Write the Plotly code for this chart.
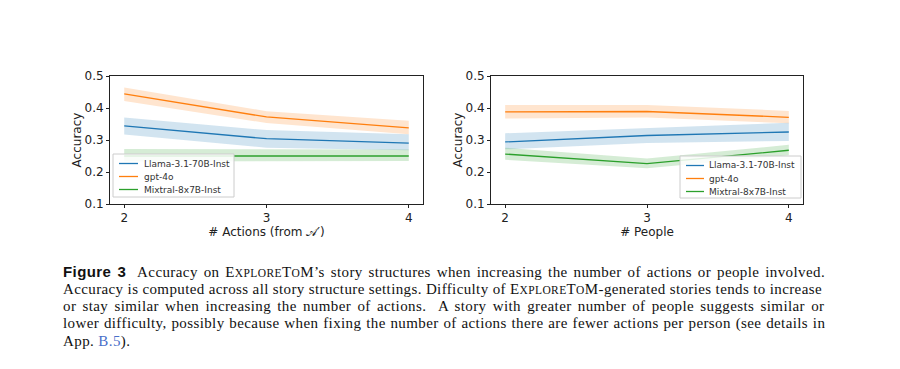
import plotly.graph_objects as go

# ---------------- data ----------------
x_vals = [2, 3, 4]
models = ["Llama-3.1-70B-Inst", "gpt-4o", "Mixtral-8x7B-Inst"]
colors = ["#1f77b4", "#ff7f0e", "#2ca02c"]
bands = ["rgba(31,119,180,0.2)", "rgba(255,127,14,0.2)", "rgba(44,160,44,0.2)"]

# Left: number of actions
act_llama_mean = [0.344, 0.304, 0.290]
act_llama_lo = [0.317, 0.276, 0.268]
act_llama_hi = [0.370, 0.331, 0.318]
act_gpt_mean = [0.444, 0.372, 0.338]
act_gpt_lo = [0.422, 0.353, 0.318]
act_gpt_hi = [0.464, 0.390, 0.360]
act_mix_mean = [0.250, 0.249, 0.250]
act_mix_lo = [0.233, 0.233, 0.234]
act_mix_hi = [0.272, 0.270, 0.270]

# Right: number of people
ppl_llama_mean = [0.294, 0.314, 0.325]
ppl_llama_lo = [0.271, 0.291, 0.297]
ppl_llama_hi = [0.321, 0.338, 0.354]
ppl_gpt_mean = [0.388, 0.389, 0.371]
ppl_gpt_lo = [0.367, 0.370, 0.352]
ppl_gpt_hi = [0.409, 0.409, 0.391]
ppl_mix_mean = [0.256, 0.226, 0.268]
ppl_mix_lo = [0.238, 0.212, 0.252]
ppl_mix_hi = [0.276, 0.242, 0.285]

y_ticks = [0.1, 0.2, 0.3, 0.4, 0.5]
x_ticks = [2, 3, 4]

left_series = [
    (act_llama_mean, act_llama_lo, act_llama_hi),
    (act_gpt_mean, act_gpt_lo, act_gpt_hi),
    (act_mix_mean, act_mix_lo, act_mix_hi),
]
right_series = [
    (ppl_llama_mean, ppl_llama_lo, ppl_llama_hi),
    (ppl_gpt_mean, ppl_gpt_lo, ppl_gpt_hi),
    (ppl_mix_mean, ppl_mix_lo, ppl_mix_hi),
]

SC = "E<span style='font-size:11.5px'>XPLORE</span>T<span style='font-size:11.5px'>O</span>M"
caption_lines = [
    "<b><span style='font-family:Liberation Sans'>Figure 3</span></b>  Accuracy on " + SC + "’s story structures when increasing the number of actions or people involved.",
    "Accuracy is computed across all story structure settings. Difficulty of " + SC + "-generated stories tends to increase",
    "or stay similar when increasing the number of actions.  A story with greater number of people suggests similar or",
    "lower difficulty, possibly because when fixing the number of actions there are fewer actions per person (see details in",
    "App. <span style='color:#4a6fc9'>B.5</span>).",
]
caption_spacing = [(0.4, 1.7), (0.375, 0.0), (0.4, 2.05), (0.4, 0.6), (0.4, 0.0)]

fig = go.Figure()

def add_panel(series, xa, ya):
    for col, band, (mean, lo, hi) in zip(colors, bands, series):
        fig.add_trace(go.Scatter(x=x_vals, y=lo, mode="lines", line=dict(width=0),
                                 showlegend=False, hoverinfo="skip", xaxis=xa, yaxis=ya))
        fig.add_trace(go.Scatter(x=x_vals, y=hi, mode="lines", line=dict(width=0),
                                 fill="tonexty", fillcolor=band, showlegend=False,
                                 hoverinfo="skip", xaxis=xa, yaxis=ya))
    for name, col, (mean, lo, hi) in zip(models, colors, series):
        fig.add_trace(go.Scatter(x=x_vals, y=mean, mode="lines", name=name,
                                 line=dict(color=col, width=1.3), xaxis=xa, yaxis=ya,
                                 showlegend=False))

add_panel(left_series, "x", "y")
add_panel(right_series, "x2", "y2")

# page body has an 8px margin: map reference-window pixels to figure fractions
OFF = 8
W, H = 900 - OFF, 369 - OFF
def px(x):
    return (x - OFF) / W
def py(y):
    return 1 - (y - OFF) / H

tick_font = dict(family="DejaVu Sans", size=12, color="#222")
title_font = dict(family="DejaVu Sans", size=12, color="#222")
axis_common = dict(showline=True, linecolor="#222", linewidth=1, mirror=True,
                   ticks="outside", ticklen=3, tickcolor="#222", showgrid=False,
                   zeroline=False, tickfont=tick_font)

fig.update_layout(
    width=W, height=H,
    margin=dict(l=0, r=0, t=0, b=0, autoexpand=False),
    paper_bgcolor="white", plot_bgcolor="white",
    showlegend=False,
    xaxis=dict(domain=[px(110), px(423)], range=[1.9, 4.1], tickvals=x_ticks,
               title=dict(text="# Actions (from 𝒜′)", font=title_font, standoff=0),
               anchor="y", **axis_common),
    yaxis=dict(domain=[py(204), py(76)], range=[0.1, 0.5], tickvals=y_ticks,
               tickformat=".1f",
               title=dict(text="Accuracy", font=title_font, standoff=0),
               anchor="x", **axis_common),
    xaxis2=dict(domain=[px(491), px(803)], range=[1.9, 4.1], tickvals=x_ticks,
                title=dict(text="# People", font=title_font, standoff=0),
                anchor="y2", **axis_common),
    yaxis2=dict(domain=[py(204), py(76)], range=[0.1, 0.5], tickvals=y_ticks,
                tickformat=".1f",
                title=dict(text="Accuracy", font=title_font, standoff=0),
                anchor="x2", **axis_common),
)

# custom compact legends (matplotlib style)
legend_boxes = [
    dict(x0=113, x1=234, y0=154, y1=197, line_x0=119, line_x1=138, text_x=143, rows=[163.5, 176.5, 189.5]),
    dict(x0=680, x1=801, y0=156, y1=198, line_x0=686, line_x1=704, text_x=708, rows=[165.5, 178.5, 191.5]),
]
for lb in legend_boxes:
    fig.add_shape(type="rect", xref="paper", yref="paper",
                  x0=px(lb["x0"]), x1=px(lb["x1"]), y0=py(lb["y1"]), y1=py(lb["y0"]),
                  fillcolor="rgba(255,255,255,0.85)", line=dict(color="#cccccc", width=1),
                  layer="above")
    for name, col, ry in zip(models, colors, lb["rows"]):
        fig.add_shape(type="line", xref="paper", yref="paper",
                      x0=px(lb["line_x0"]), x1=px(lb["line_x1"]), y0=py(ry), y1=py(ry),
                      line=dict(color=col, width=1.3), layer="above")
        fig.add_annotation(text=name, xref="paper", yref="paper", x=px(lb["text_x"]), y=py(ry),
                           xanchor="left", yanchor="middle", showarrow=False, borderpad=0,
                           font=dict(family="DejaVu Sans", size=9, color="#333"))

line_y = [271, 288.5, 306, 323.5, 341]
for txt, yy, (ls, ws) in zip(caption_lines, line_y, caption_spacing):
    styled = f"<span style='letter-spacing:{ls}px;word-spacing:{ws}px'>{txt}</span>"
    fig.add_annotation(text=styled, xref="paper", yref="paper", x=px(62), y=py(yy),
                       xanchor="left", yanchor="middle", showarrow=False, borderpad=0,
                       font=dict(family="Liberation Serif", size=15, color="#111"))

fig.write_html("out.html")
